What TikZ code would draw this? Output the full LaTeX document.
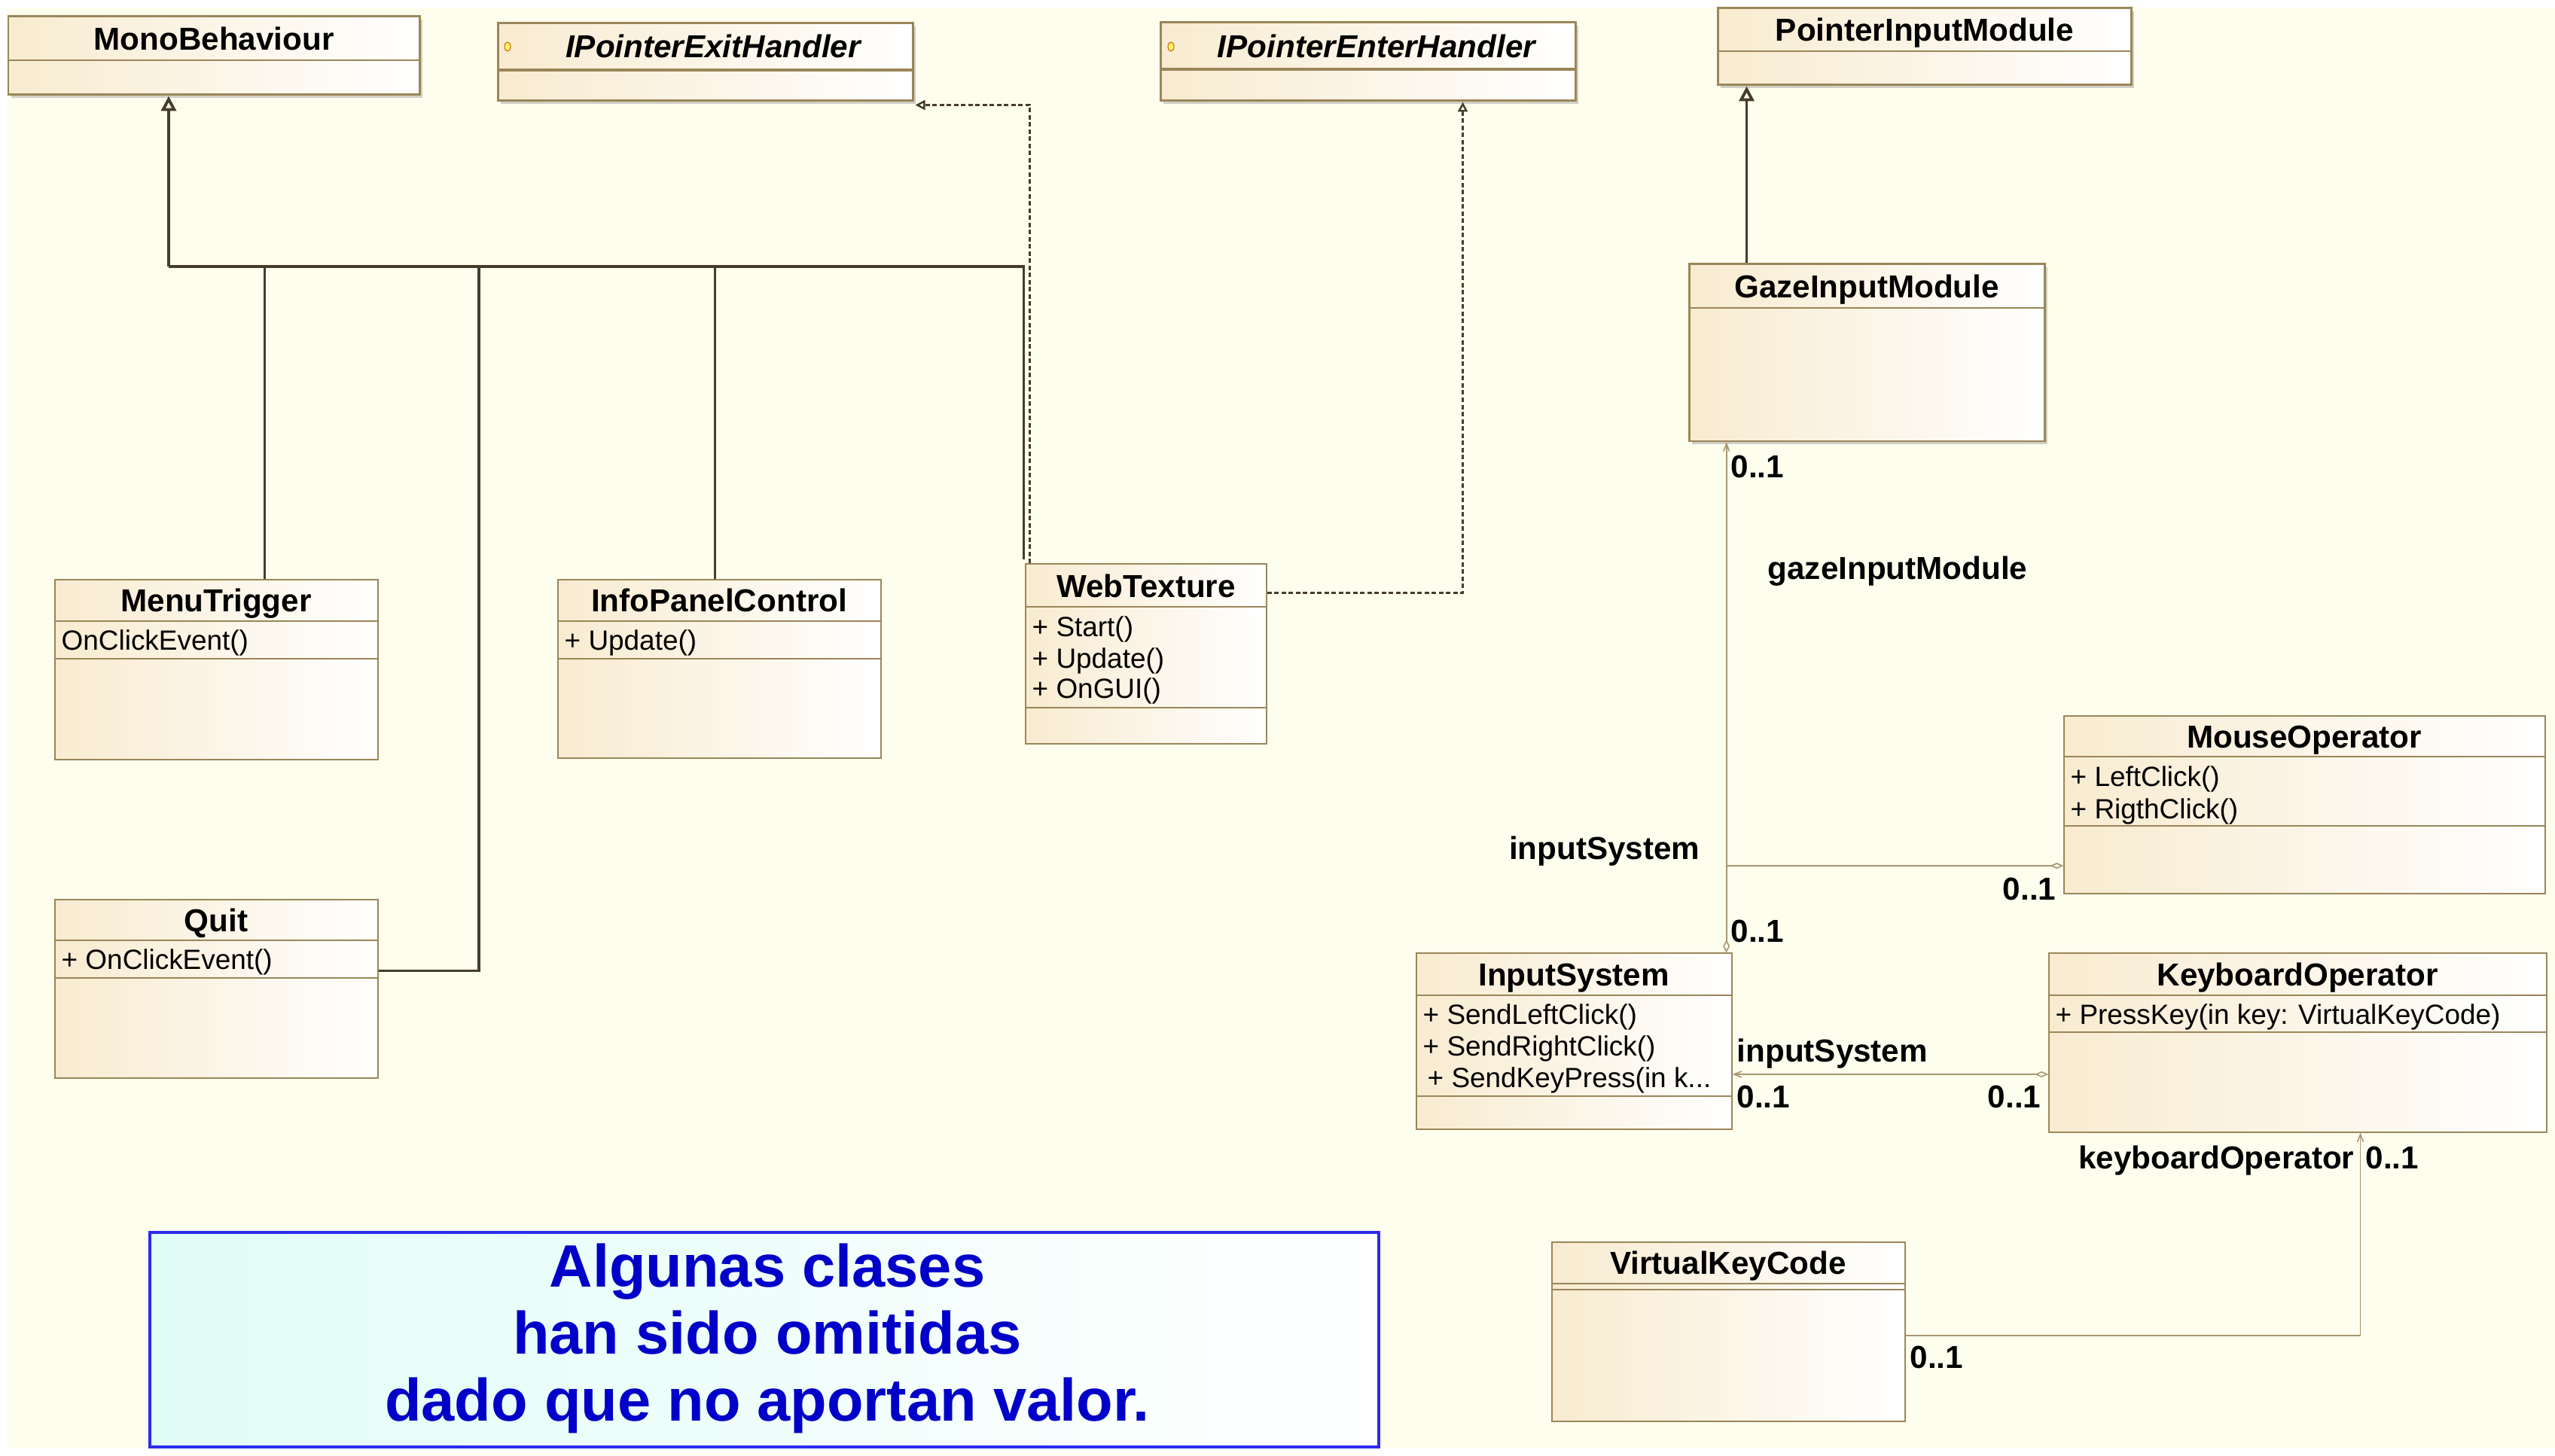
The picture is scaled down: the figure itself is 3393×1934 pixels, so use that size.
\documentclass[tikz,border=0pt]{standalone}
\usepackage{fontspec}
\setmainfont{Liberation Sans}
\setsansfont{Liberation Sans}
\usepackage{xcolor}
\usepackage{tikz}
\usetikzlibrary{arrows.meta}
\usetikzlibrary{calc}
\usetikzlibrary{fit}
\usetikzlibrary{shadows}
\usetikzlibrary{shapes.geometric}
\definecolor{Grund}{HTML}{FEFEEE}
\definecolor{Rahmen}{HTML}{9A8658}
\definecolor{Beige}{HTML}{F8EBD0}
\definecolor{Linie}{HTML}{453D2A}
\definecolor{ALinie}{HTML}{A89670}
\definecolor{Blau}{HTML}{2B2BF0}
\definecolor{Textblau}{HTML}{0000C8}
\definecolor{Mint}{HTML}{E0FDF6}
\tikzset{
  Klasse/.style={draw=Rahmen,line width=0.4pt,left color=Beige,right color=white,inner sep=0pt,fit={#1}}, % Klassenkasten
  KlasseD/.style={Klasse={#1},line width=0.85pt,drop shadow={shadow xshift=0.04cm,shadow yshift=-0.04cm,fill=black!40,opacity=.45}}, % mit Schatten
  Trenner/.style={draw=Rahmen,line width=0.4pt}, % Abteile
  Titel/.style={font={\sffamily\bfseries\fontsize{12}{14}\selectfont},inner sep=0pt,text height=0.30cm,text depth=0pt},
  ITitel/.style={Titel,font={\sffamily\bfseries\itshape\fontsize{12}{14}\selectfont}}, % Schnittstellen
  Methode/.style={font={\sffamily\fontsize{10.5}{12.6}\selectfont},inner sep=0pt,anchor=west,text height=0.265cm,text depth=0pt},
  Rolle/.style={font={\sffamily\bfseries\fontsize{12}{14}\selectfont},inner sep=0pt,text height=0.30cm,text depth=0pt},
  Symbol/.style={ellipse,draw=orange!80!black,fill=yellow!60,line width=0.3pt,minimum width=0.08cm,minimum height=0.12cm,inner sep=0pt},
  Vererbung/.style={draw=Linie,line width=1pt,-{Triangle[open,length=0.2cm,width=0.2cm,line width=1.1pt]}}, % Generalisierung
  VLinie/.style={draw=Linie,line width=1pt}, % ohne Spitze
  Realisierung/.style={draw=Linie,line width=0.7pt,dash pattern=on 0.06cm off 0.035cm,-{Triangle[open,length=0.13cm,width=0.13cm,line width=0.7pt]}},
  Assoz/.style={draw=ALinie,line width=0.45pt} % Assoziationen
}

\begin{document}
\begin{tikzpicture}[
x=0.01cm, y=-0.01cm,
font=\sffamily\upshape,
>=latex
]
\useasboundingbox (0,0) rectangle (3393,1934);
\fill[Grund] (9,10) rectangle (3393,1923);

%Klassen oben
\node[KlasseD={(11,22) (557,126)}] (Mono) {};
\node[KlasseD={(661,31) (1212,134)}] (PExit) {};
\node[KlasseD={(1541,30) (2092,134)}] (PEnter) {};
\node[KlasseD={(2281,11) (2830,113)}] (PIM) {};
\node[KlasseD={(2243,351) (2715,586)}] (GIM) {};

%Klassen unten
\node[Klasse={(73,770) (502,1009)}] (Menu) {};
\node[Klasse={(741,770) (1170,1007)}] (Info) {};
\node[Klasse={(1362,749) (1682,988)}] (Web) {};
\node[Klasse={(73,1195) (502,1432)}] (Quit) {};
\node[Klasse={(2741,951) (3380,1187)}] (Mouse) {};
\node[Klasse={(1881,1266) (2300,1500)}] (InSys) {};
\node[Klasse={(2721,1266) (3382,1504)}] (Keyb) {};
\node[Klasse={(2061,1650) (2530,1888)}] (VKC) {};

%Abteile
\foreach \k/\y in {Mono/80, PIM/68, GIM/409, Menu/825, Menu/875, Info/825, Info/875,
  Web/806, Web/940, Quit/1249, Quit/1299, Mouse/1005, Mouse/1097, InSys/1322, InSys/1456,
  Keyb/1322, Keyb/1371, VKC/1705, VKC/1713}
  \draw[Trenner] (\k.west |- 0,\y) -- (\k.east |- 0,\y);
\draw[Trenner,line width=1.4pt] (PExit.west |- 0,93) -- (PExit.east |- 0,93);
\draw[Trenner,line width=1.4pt] (PEnter.west |- 0,92) -- (PEnter.east |- 0,92);

%Titel
\node[Titel] (MonoT) at (284,51) {MonoBehaviour};
\node[ITitel] (PExitT) at (947,62) {IPointerExitHandler};
\node[Symbol] (PExitS) at (674,62) {};
\node[ITitel] (PEnterT) at (1828,61) {IPointerEnterHandler};
\node[Symbol] (PEnterS) at (1555,62) {};
\node[Titel] (PIMT) at (2556,40) {PointerInputModule};
\node[Titel] (GIMT) at (2479,380) {GazeInputModule};
\node[Titel] (MenuT) at (287,797) {MenuTrigger};
\node[Titel] (InfoT) at (955,797) {InfoPanelControl};
\node[Titel] (WebT) at (1522,778) {WebTexture};
\node[Titel] (QuitT) at (287,1222) {Quit};
\node[Titel] (MouseT) at (3060,978) {MouseOperator};
\node[Titel] (InSysT) at (2090,1294) {InputSystem};
\node[Titel] (KeybT) at (3051,1294) {KeyboardOperator};
\node[Titel] (VKCT) at (2295,1677) {VirtualKeyCode};

%Methoden
\node[Methode] (M1) at (81,850) {OnClickEvent()};
\node[Methode] (M2) at (749,850) {+ Update()};
\node[Methode] (M3) at (81,1274) {+ OnClickEvent()};
\node[Methode] (M4) at (1370,832) {+ Start()};
\node[Methode] (M5) at (1370,874) {+ Update()};
\node[Methode] (M6) at (1370,914) {+ OnGUI()};
\node[Methode] (M7) at (2749,1031) {+ LeftClick()};
\node[Methode] (M8) at (2749,1074) {+ RigthClick()};
\node[Methode] (M9) at (1889,1347) {+ SendLeftClick()};
\node[Methode] (M10) at (1889,1389) {+ SendRightClick()};
\node[Methode] (M11) at (1895,1431) {+ SendKeyPress(in k...};
\node[Methode] (M12) at (2729,1347) {+ PressKey(in key: VirtualKeyCode)};

%Vererbung
\coordinate (Hub) at (224,354);
\draw[VLinie] ($(Menu.north)+(64,0)$) |- (Hub);
\draw[VLinie] ($(Quit.east)+(0,-24)$) -| ($(Hub)+(412,0)$);
\draw[VLinie] ($(Info.north)+(-6,0)$) |- (Hub);
\draw[VLinie] ($(Web.north west)+(-2,-5)$) |- (Hub);
\draw[Vererbung] (Hub) -- (Hub |- Mono.south);
\coordinate (Gz) at ($(GIM.north west)+(78,0)$);
\draw[Vererbung] (Gz) -- (Gz |- PIM.south);

%Realisierung
\draw[Realisierung] ($(Web.north west)+(6,0)$) |- ($(PExit.south east)+(2,4)$);
\draw[Realisierung] ($(Web.east)+(0,-81)$) -| ($(PEnter.south west)+(403,0)$);

%Assoziationen
\coordinate (A1) at ($(InSys.north east)+(-8,0)$);
\draw[Assoz,{Diamond[open,length=0.17cm,width=0.09cm]}-{Straight Barb[length=0.1cm,width=0.08cm]}] (A1) -- (A1 |- GIM.south);
\coordinate (A2) at ($(Mouse.west)+(0,81)$);
\draw[Assoz,-{Diamond[open,length=0.18cm,width=0.08cm]}] (A2 -| A1) -- (A2);
\coordinate (A3) at ($(Keyb.west)+(0,42)$);
\draw[Assoz,{Straight Barb[length=0.1cm,width=0.08cm]}-{Diamond[open,length=0.18cm,width=0.08cm]}] (A3 -| InSys.east) -- (A3);
\coordinate (A4) at ($(VKC.east)+(0,5)$);
\draw[Assoz,-{Straight Barb[length=0.1cm,width=0.08cm]}] (A4) -| ($(Keyb.south)+(83,0)$);

%Rollen und Multiplizitaeten
\node[Rolle,anchor=west] (R1) at (2298,619) {0..1};
\node[Rolle,anchor=west] (R2) at (2347,754) {gazeInputModule};
\node[Rolle,anchor=east] (R3) at (2258,1126) {inputSystem};
\node[Rolle,anchor=east] (R4) at (2731,1180) {0..1};
\node[Rolle,anchor=west] (R5) at (2298,1236) {0..1};
\node[Rolle,anchor=west] (R6) at (2306,1395) {inputSystem};
\node[Rolle,anchor=west] (R7) at (2306,1456) {0..1};
\node[Rolle,anchor=east] (R8) at (2711,1456) {0..1};
\node[Rolle,anchor=east] (R9) at (3127,1537) {keyboardOperator};
\node[Rolle,anchor=west] (R10) at (3141,1537) {0..1};
\node[Rolle,anchor=west] (R11) at (2536,1802) {0..1};

%Hinweis
\node[draw=Blau,line width=0.9pt,left color=Mint,right color=white,inner sep=0pt,fit={(199,1637) (1831,1922)}] (Hinweis) {};
\node[font={\sffamily\bfseries\fontsize{22.6}{25.4}\selectfont},text=Textblau,align=center,inner sep=0pt] (HinweisT) at (1019,1778)
  {Algunas clases\\han sido omitidas\\dado que no aportan valor.};

\end{tikzpicture}
\end{document}
